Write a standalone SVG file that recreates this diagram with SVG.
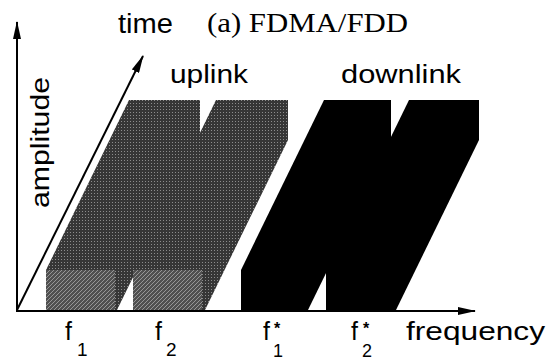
<svg xmlns="http://www.w3.org/2000/svg" width="546" height="362" viewBox="0 0 546 362">
  <defs>
    <marker id="arrow" viewBox="0 0 18 8" markerWidth="18" markerHeight="8" refX="17" refY="4" orient="auto" markerUnits="userSpaceOnUse">
      <path d="M0,0 L18,4 L0,8 z" fill="#000"/>
    </marker>
    <pattern id="dots" width="3" height="3" patternUnits="userSpaceOnUse">
      <rect width="3" height="3" fill="#363636"/>
      <rect x="1" y="1" width="1" height="1" fill="#8c8c8c"/>
    </pattern>
    <pattern id="hatch" width="4" height="4" patternUnits="userSpaceOnUse">
      <rect width="4" height="4" fill="#505050"/>
      <path d="M0,4 L4,0" stroke="#a8a8a8" stroke-width="0.8"/>
    </pattern>
  </defs>
  <style>
    .sans { font-family: "Liberation Sans", Arial, sans-serif; fill: #000; }
    .serif { font-family: "Liberation Serif", "Times New Roman", serif; fill: #000; }
    .axis { stroke: #000; stroke-width: 2; fill: none; }
    .up-body { fill: url(#dots); }
    .up-front { fill: url(#hatch); }
    .down-body { fill: #000; }
  </style>
  <rect width="546" height="362" fill="#fff"/>

  <!-- uplink blocks -->
  <g id="block-f1">
    <polygon class="up-body" points="46,310 46,270 129,100 200,100 200,140 117,310"/>
    <rect class="up-front" x="46" y="270" width="69" height="40"/>
  </g>
  <g id="block-f2">
    <polygon class="up-body" points="133,310 133,270 216,100 288,100 288,140 205,310"/>
    <rect class="up-front" x="133" y="270" width="69" height="40"/>
  </g>

  <!-- downlink blocks -->
  <g id="block-f1star">
    <polygon class="down-body" points="241,310 241,270 324,100 391,100 391,140 308,310"/>
  </g>
  <g id="block-f2star">
    <polygon class="down-body" points="326,310 326,270 409,100 479,100 479,140 396,310"/>
  </g>

  <!-- axes -->
  <g id="connectors">
    <line class="axis" x1="17" y1="311" x2="17" y2="22" marker-end="url(#arrow)"/>
    <line class="axis" x1="17" y1="310" x2="143" y2="56" marker-end="url(#arrow)"/>
    <line class="axis" x1="16" y1="311" x2="475" y2="311" marker-end="url(#arrow)"/>
  </g>

  <!-- labels -->
  <g id="title">
    <text class="serif" x="207" y="32" font-size="27" textLength="201" lengthAdjust="spacingAndGlyphs">(a) FDMA/FDD</text>
  </g>
  <g id="label-time">
    <text class="sans" x="118" y="33" font-size="27" textLength="55" lengthAdjust="spacingAndGlyphs">time</text>
  </g>
  <g id="label-amplitude">
    <text class="sans" transform="translate(49,208) rotate(-90)" font-size="26" textLength="131" lengthAdjust="spacingAndGlyphs">amplitude</text>
  </g>
  <g id="label-uplink">
    <text class="sans" x="170" y="83" font-size="25" textLength="78" lengthAdjust="spacingAndGlyphs">uplink</text>
  </g>
  <g id="label-downlink">
    <text class="sans" x="341" y="83" font-size="25" textLength="120" lengthAdjust="spacingAndGlyphs">downlink</text>
  </g>
  <g id="label-frequency">
    <text class="sans" x="406" y="340" font-size="26" textLength="139" lengthAdjust="spacingAndGlyphs">frequency</text>
  </g>
  <g id="label-f1">
    <text class="sans" x="65" y="340" font-size="25">f</text>
    <text class="sans" x="77" y="356" font-size="19">1</text>
  </g>
  <g id="label-f2">
    <text class="sans" x="155" y="340" font-size="25">f</text>
    <text class="sans" x="166" y="356" font-size="19">2</text>
  </g>
  <g id="label-f1star">
    <text class="sans" x="263" y="340" font-size="25">f</text>
    <text class="sans" x="274" y="334" font-size="16" font-weight="bold">*</text>
    <text class="sans" x="273" y="357" font-size="18">1</text>
  </g>
  <g id="label-f2star">
    <text class="sans" x="351" y="340" font-size="25">f</text>
    <text class="sans" x="363" y="334" font-size="16" font-weight="bold">*</text>
    <text class="sans" x="362" y="357" font-size="18">2</text>
  </g>
</svg>
